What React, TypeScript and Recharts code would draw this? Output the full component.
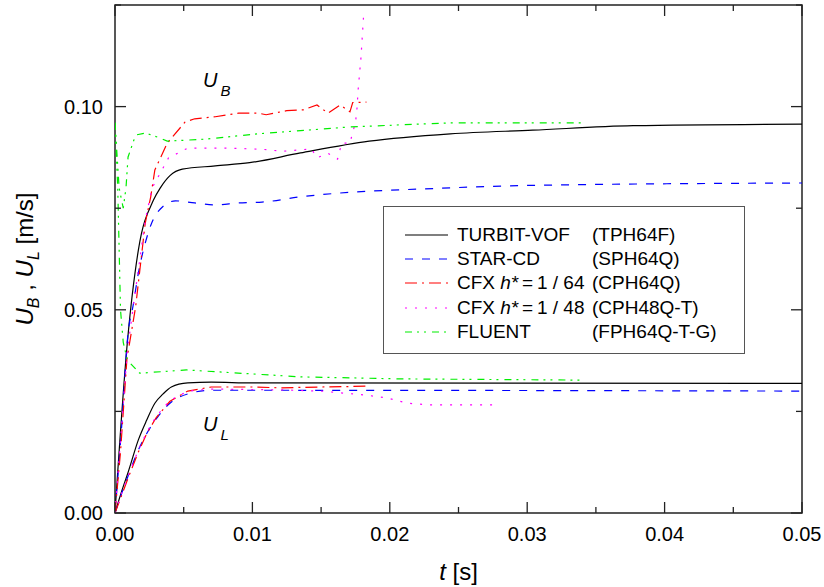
import React from 'react';
import { LineChart, Line, XAxis, YAxis, Legend, ReferenceArea, ReferenceDot } from 'recharts';

// ---------- data (t [s], velocity [m/s]) ----------
const turbitUB = [[0,0],[0.0009,0.042],[0.0017,0.0647],[0.0028,0.077],[0.0033,0.080],[0.004,0.083],[0.0049,0.0846],[0.0073,0.0854],[0.0098,0.0862],[0.0135,0.0886],[0.0185,0.0915],[0.0244,0.0933],[0.0304,0.0942],[0.0377,0.0953],[0.05,0.0957]];
const turbitUL = [[0,0],[0.0005,0.0055],[0.001,0.0105],[0.0017,0.018],[0.0023,0.0228],[0.0029,0.027],[0.0035,0.0293],[0.0041,0.031],[0.0053,0.032],[0.007,0.0322],[0.01,0.032],[0.05,0.0319]];

const starUB = [[0,0],[0.0005,0.022],[0.00095,0.0443],[0.0013,0.0507],[0.0017,0.059],[0.0022,0.0664],[0.0027,0.0716],[0.0033,0.0748],[0.0044,0.0768],[0.0058,0.0763],[0.0073,0.0758],[0.009,0.0763],[0.0107,0.0765],[0.0135,0.0778],[0.0244,0.080],[0.03,0.0806],[0.05,0.0812]];
const starUL = [[0,0],[0.0005,0.005],[0.001,0.0095],[0.0017,0.0155],[0.0023,0.0195],[0.0031,0.0236],[0.004,0.027],[0.0053,0.0293],[0.007,0.0302],[0.01,0.0302],[0.05,0.030]];

const cfx64UB = [[0,0],[0.0004,0.015],[0.00087,0.038],[0.0015,0.0507],[0.0022,0.0713],[0.0026,0.0778],[0.0029,0.0844],[0.0038,0.091],[0.0051,0.0962],[0.0058,0.097],[0.0073,0.0975],[0.009,0.0984],[0.0104,0.0984],[0.011,0.098],[0.0125,0.099],[0.0137,0.0992],[0.0147,0.1004],[0.0155,0.0984],[0.0164,0.1004],[0.0171,0.0987],[0.0173,0.101],[0.0183,0.1011]];
const cfx64UL = [[0,0],[0.0005,0.0045],[0.001,0.009],[0.0017,0.015],[0.0023,0.0195],[0.003,0.0235],[0.004,0.0275],[0.0053,0.030],[0.007,0.031],[0.01,0.031],[0.012,0.0308],[0.015,0.031],[0.0183,0.0312]];

const cfx48UB = [[0,0],[0.0009,0.04],[0.0015,0.055],[0.0022,0.072],[0.0027,0.08],[0.0039,0.0874],[0.0053,0.0898],[0.008,0.0898],[0.0107,0.0895],[0.0122,0.089],[0.0143,0.0896],[0.0147,0.0874],[0.0155,0.0885],[0.0162,0.0871],[0.0165,0.091],[0.0171,0.091],[0.0173,0.0937],[0.0175,0.096],[0.0176,0.099],[0.0177,0.1043],[0.0179,0.112],[0.0181,0.1228]];
const cfx48UL = [[0,0],[0.0005,0.005],[0.001,0.0095],[0.0017,0.0155],[0.0023,0.0198],[0.003,0.0238],[0.004,0.0277],[0.0053,0.030],[0.007,0.0305],[0.012,0.0303],[0.015,0.030],[0.0183,0.029],[0.0198,0.0283],[0.0213,0.027],[0.0229,0.0266],[0.0277,0.0266]];

const fluentUB = [[0,0.096],[0.0003,0.080],[0.0006,0.075],[0.0008,0.080],[0.00095,0.0876],[0.0015,0.093],[0.0022,0.0935],[0.0031,0.0925],[0.0038,0.0915],[0.0066,0.092],[0.0104,0.0933],[0.0171,0.095],[0.0244,0.096],[0.034,0.096]];
const fluentUL = [[0,0.096],[0.0002,0.08],[0.0003,0.065],[0.0004,0.05],[0.0006,0.042],[0.0009,0.0376],[0.0018,0.0344],[0.0052,0.0352],[0.0135,0.0335],[0.0207,0.033],[0.034,0.0327]];

const seriesNames = ['TURBIT-VOF', 'STAR-CD', 'CFX h* = 1 / 64', 'CFX h* = 1 / 48', 'FLUENT'];
const seriesCodes = ['(TPH64F)', '(SPH64Q)', '(CPH64Q)', '(CPH48Q-T)', '(FPH64Q-T-G)'];

const xTicks = [0, 0.005, 0.01, 0.015, 0.02, 0.025, 0.03, 0.035, 0.04, 0.045, 0.05];
const yTicks = [0, 0.025, 0.05, 0.075, 0.1, 0.125];

// ---------- styling ----------
const FONT = '"Liberation Sans", Arial, Helvetica, sans-serif';
const W = 824, H = 587;
const MARGIN = { top: 5, right: 22, left: 0, bottom: 0 };
const YAXIS_W = 115, XAXIS_H = 74;
const PLOT = { left: MARGIN.left + YAXIS_W, top: MARGIN.top, right: W - MARGIN.right, bottom: H - XAXIS_H };
const AXIS_COLOR = '#222';

const styles = [
  { color: '#000000', dash: undefined, type: 'monotone' },
  { color: '#0000ff', dash: '8 9', type: 'monotone' },
  { color: '#ff0000', dash: '12 5 2 5', type: 'linear' },
  { color: '#ff00ff', dash: '2 8', type: 'linear' },
  { color: '#00ee00', dash: '7 5 2 5 2 6', type: 'linear' },
];

const toPts = (a: number[][]) => a.map(([t, v]) => ({ t, v }));
const seriesData = [
  [turbitUB, turbitUL],
  [starUB, starUL],
  [cfx64UB, cfx64UL],
  [cfx48UB, cfx48UL],
  [fluentUB, fluentUL],
];

const XTick = (props: any) => {
  const { x, payload } = props;
  const v = payload.value;
  const major = Math.round(v * 1000) % 10 === 0;
  const len = major ? 11 : 6;
  return (
    <g>
      <line x1={x} x2={x} y1={PLOT.bottom} y2={PLOT.bottom - len} stroke={AXIS_COLOR} strokeWidth={1.3} />
      <line x1={x} x2={x} y1={PLOT.top} y2={PLOT.top + len} stroke={AXIS_COLOR} strokeWidth={1.3} />
      {major && (
        <text x={x} y={PLOT.bottom + 28} textAnchor="middle" fontFamily={FONT} fontSize={20} fill="#000">
          {v.toFixed(2)}
        </text>
      )}
    </g>
  );
};

const YTick = (props: any) => {
  const { y, payload } = props;
  const v = payload.value;
  const major = Math.round(v * 1000) % 50 === 0;
  const len = major ? 11 : 6;
  return (
    <g>
      <line x1={PLOT.left} x2={PLOT.left + len} y1={y} y2={y} stroke={AXIS_COLOR} strokeWidth={1.3} />
      <line x1={PLOT.right} x2={PLOT.right - len} y1={y} y2={y} stroke={AXIS_COLOR} strokeWidth={1.3} />
      {major && (
        <text x={PLOT.left - 12} y={y + 7} textAnchor="end" fontFamily={FONT} fontSize={20} fill="#000">
          {v.toFixed(2)}
        </text>
      )}
    </g>
  );
};

const XTitle = () => (
  <text x={(PLOT.left + PLOT.right) / 2} y={580} textAnchor="middle" fontFamily={FONT} fontSize={24} fill="#000">
    <tspan fontStyle="italic">t</tspan>
    <tspan> [s]</tspan>
  </text>
);

const YTitle = () => {
  const cx = 33, cy = (PLOT.top + PLOT.bottom) / 2;
  return (
    <text x={cx} y={cy} textAnchor="middle" fontFamily={FONT} fontSize={24} fill="#000" transform={`rotate(-90, ${cx}, ${cy})`}>
      <tspan fontStyle="italic">U</tspan>
      <tspan fontStyle="italic" fontSize={16} dy={6}>B</tspan>
      <tspan dy={-6}> , </tspan>
      <tspan fontStyle="italic">U</tspan>
      <tspan fontStyle="italic" fontSize={16} dy={6}>L</tspan>
      <tspan dy={-6}> [m/s]</tspan>
    </text>
  );
};

const makeAnnot = (sub: string) => (props: any) => {
  const vb = props.viewBox || {};
  const x = vb.x + (vb.width || 0) / 2;
  const y = vb.y + (vb.height || 0) / 2;
  return (
    <text x={x} y={y} fontFamily={FONT} fontSize={20} fontStyle="italic" fill="#000">
      <tspan>U</tspan>
      <tspan fontSize={15} dx={3} dy={9}>{sub}</tspan>
    </text>
  );
};

const LegendSample = ({ color, dash }: { color: string; dash?: string }) => (
  <svg width={43} height={24} style={{ display: 'block' }}>
    <line x1={0} x2={43} y1={12} y2={12} stroke={color} strokeWidth={1.2} strokeDasharray={dash} />
  </svg>
);

const renderName = (name: string) => {
  const idx = name.indexOf('h*');
  if (idx < 0) return name;
  const rest = name.slice(idx + 2).replace(/^ = /, '\u2009=\u2009');
  return (
    <>
      {name.slice(0, idx)}
      <i>h*</i>
      {rest}
    </>
  );
};

const LegendBox = () => (
  <div
    style={{
      width: 362,
      height: 148,
      boxSizing: 'border-box',
      border: '1.3px solid #555',
      background: '#fff',
      position: 'relative',
      fontFamily: FONT,
      fontSize: 19,
      color: '#000',
    }}
  >
    {seriesNames.map((name, i) => (
      <div key={name} style={{ position: 'absolute', left: 0, top: 16 + i * 24.2, height: 24, width: '100%' }}>
        <div style={{ position: 'absolute', left: 21, top: 0 }}>
          <LegendSample color={styles[i].color} dash={styles[i].dash} />
        </div>
        <div style={{ position: 'absolute', left: 73, top: 0, lineHeight: '24px', whiteSpace: 'nowrap' }}>{renderName(name)}</div>
        <div style={{ position: 'absolute', left: 208, top: 0, lineHeight: '24px', whiteSpace: 'nowrap' }}>{seriesCodes[i]}</div>
      </div>
    ))}
  </div>
);

export default function App() {
  return (
    <div style={{ position: 'absolute', left: 0, top: 0, width: W, height: H, background: '#fff' }}>
      <LineChart width={W} height={H} margin={MARGIN}>
        <XAxis
          dataKey="t"
          type="number"
          domain={[0, 0.05]}
          allowDataOverflow
          ticks={xTicks}
          interval={0}
          tick={<XTick />}
          tickLine={false}
          axisLine={false}
          height={XAXIS_H}
          label={XTitle}
        />
        <YAxis
          type="number"
          domain={[0, 0.125]}
          allowDataOverflow
          ticks={yTicks}
          interval={0}
          tick={<YTick />}
          tickLine={false}
          axisLine={false}
          width={YAXIS_W}
          label={YTitle}
        />
        <ReferenceArea x1={0} x2={0.05} y1={0} y2={0.125} fill="none" fillOpacity={0} stroke={AXIS_COLOR} strokeWidth={1.5} ifOverflow="visible" />
        {seriesData.map((pair, i) =>
          pair.map((arr, j) => (
            <Line
              key={`${i}-${j}`}
              data={toPts(arr)}
              dataKey="v"
              type={styles[i].type as any}
              stroke={styles[i].color}
              strokeWidth={1.2}
              strokeDasharray={styles[i].dash}
              dot={false}
              activeDot={false}
              isAnimationActive={false}
              legendType="none"
            />
          ))
        )}
        <ReferenceDot x={0.0064} y={0.1048} r={0} fill="none" stroke="none" ifOverflow="visible" label={makeAnnot('B')} />
        <ReferenceDot x={0.0064} y={0.0202} r={0} fill="none" stroke="none" ifOverflow="visible" label={makeAnnot('L')} />
        <Legend
          layout="horizontal"
          verticalAlign="middle"
          align="center"
          content={<LegendBox />}
          wrapperStyle={{ left: 383, top: 206, width: 362, height: 148 }}
        />
      </LineChart>
    </div>
  );
}
